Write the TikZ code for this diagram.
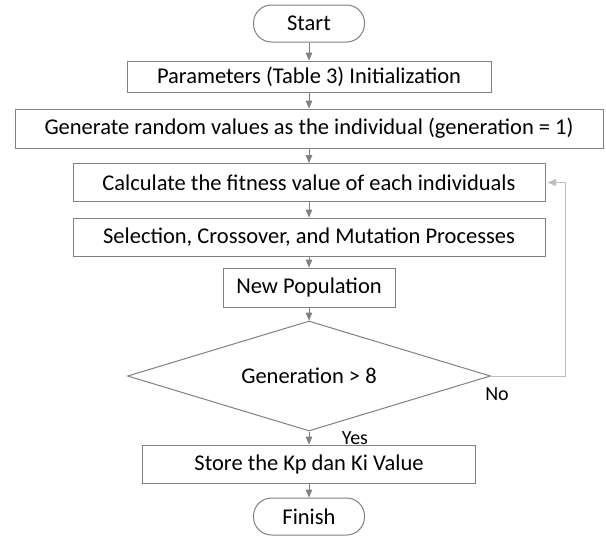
\documentclass[tikz,border=0pt]{standalone}
\usepackage{fontspec}
\setmainfont{Carlito}
\usetikzlibrary{arrows,shapes.geometric}
\definecolor{boxgray}{RGB}{128,128,128}
\definecolor{loopgray}{RGB}{190,190,190}

\begin{document}
\begin{tikzpicture}[x=1pt,y=-1pt,
  font=\fontsize{22.5}{26}\selectfont,
  box/.style={draw=boxgray,line width=1pt,inner sep=0pt,minimum height=38pt},
  pill/.style={box,rounded corners=18pt,minimum width=111pt,minimum height=37pt},
  decision/.style={draw=boxgray,line width=1pt,diamond,aspect=3.3,inner sep=0pt,minimum width=363pt,minimum height=110pt},
  answer/.style={inner sep=0pt,font=\fontsize{20}{24}\selectfont},
  flow/.style={draw=boxgray,line width=0.8pt,arrows={-triangle 45}},
  loopback/.style={draw=loopgray,line width=1pt,arrows={-triangle 45},shorten >=2pt}]

\useasboundingbox (0,0) rectangle (606,536);

% main column
\node[pill] (start) at (309,23.5) {Start};
\node[box,minimum width=364pt,minimum height=31pt] (param) at (309,76.5) {Parameters (Table 3) Initialization};
\node[box,minimum width=588pt,minimum height=39pt] (rand) at (309,128.5) {Generate random values as the individual (generation = 1)};
\node[box,minimum width=472pt] (fit) at (309,182.5) {Calculate the fitness value of each individuals};
\node[box,minimum width=472pt] (sel) at (309,237) {Selection, Crossover, and Mutation Processes};
\node[box,minimum width=172pt,minimum height=39pt] (newpop) at (309,287.5) {New Population};
\node[decision] (gen) at (309,376) {Generation > 8};
\node[box,minimum width=333pt] (store) at (309,464) {Store the Kp dan Ki Value};
\node[pill] (finish) at (309,516.5) {Finish};

% labels
\node[answer] (no) at (497,394) {No};
\node[answer] (yes) at (355,438) {Yes};

\draw[flow] (start) -- (param);
\draw[flow] (param) -- (rand);
\draw[flow] (rand) -- (fit);
\draw[flow] (fit) -- (sel);
\draw[flow] (sel) -- (newpop);
\draw[flow] (newpop) -- (gen);
\draw[flow] (gen) -- (store);
\draw[flow] (store) -- (finish);

% loop back
\coordinate (corner) at (565,376);
\draw[loopback] (gen.east) -- (corner) |- (fit.east);

\end{tikzpicture}
\end{document}
